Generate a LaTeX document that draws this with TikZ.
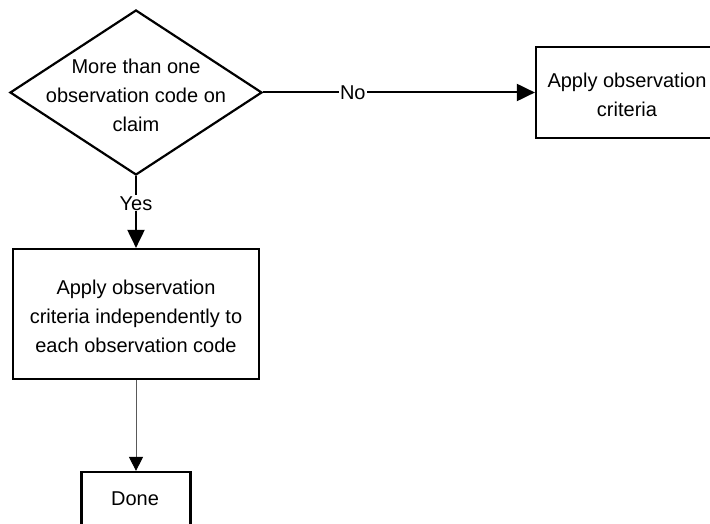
\documentclass[tikz,border=0pt]{standalone}
\usepackage{fontspec}
\setmainfont{Liberation Sans}
\usetikzlibrary{arrows.meta,shapes.geometric}
\begin{document}
\begin{tikzpicture}[x=1pt,y=-1pt,
  txt/.style={font=\fontsize{20}{29}\selectfont, align=center, inner sep=0pt},
  boxstyle/.style={draw, line width=2.2pt, inner sep=0pt},
  conn/.style={line width=2pt, -{Triangle[length=18pt,width=17pt]}},
  thinconn/.style={line width=0.9pt, draw=black!65, -{Triangle[length=14pt,width=14pt,fill=black,color=black]}},
  lab/.style={fill=white, font=\fontsize{20}{24}\selectfont, inner sep=1pt}
]
\useasboundingbox (0,0) rectangle (710,524);
\clip (0,0) rectangle (710,524);
% decision
\node (dec) [diamond, draw, line width=2.2pt, minimum width=252pt, minimum height=165pt, inner sep=0pt] at (136,92.5) {};
\node (dect) [txt] at (136,95) {More than one\\observation code on\\claim};
% right box
\node (crit) [boxstyle, minimum width=182pt, minimum height=91pt] at (627,92.5) {};
\node (critt) [txt] at (627,95) {Apply observation\\criteria};
% box 1
\node (ind) [boxstyle, minimum width=246pt, minimum height=130pt] at (136,314) {};
\node (indt) [txt] at (136,316) {Apply observation\\criteria independently to\\each observation code};
% done
\node (done) [boxstyle, minimum width=109pt, minimum height=58pt] at (136,501) {};
\node (donet) [txt] at (135,499) {Done};
% connectors
\draw[conn] (dec.east) -- node[lab, pos=0.33] {No} (crit.west);
\draw[conn] (dec.south) -- node[lab, pos=0.38] {Yes} (ind.north);
\draw[thinconn] (ind.south) -- (done.north);
\end{tikzpicture}
\end{document}
